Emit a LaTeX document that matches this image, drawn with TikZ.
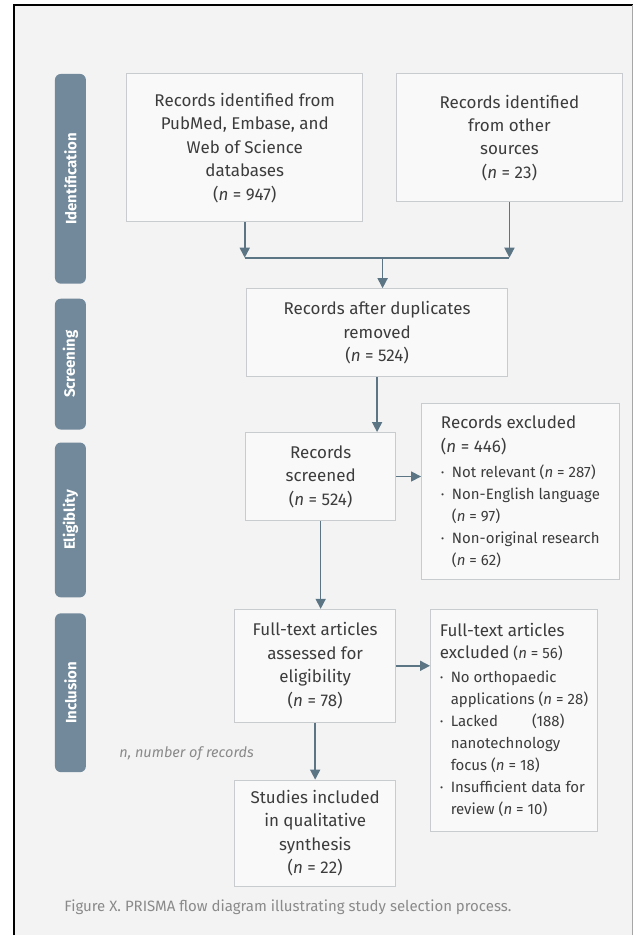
\documentclass[tikz,border=0pt]{standalone}
\usepackage{fontspec}
\setmainfont{Fira Sans}
\usetikzlibrary{arrows.meta}

\definecolor{paper}{HTML}{F3F3F3}
\definecolor{boxline}{HTML}{C9CCCF}
\definecolor{barfill}{HTML}{71899A}
\definecolor{arrowcol}{HTML}{5B7585}
\definecolor{txt}{HTML}{3C3C3C}
\definecolor{captxt}{HTML}{8A8A8A}

\tikzset{
  box/.style={draw=boxline, line width=1pt, fill=paper!50!white, text=txt, align=center,
    inner sep=0pt, font=\fontsize{17}{23.5}\selectfont},
  sidebox/.style={box, align=left, font=\fontsize{15}{22}\selectfont},
  flow/.style={draw=arrowcol, line width=1.6pt, -{Triangle[width=10pt,length=10pt]}},
  phase/.style={fill=barfill, rounded corners=6pt, rotate=90, text=white, inner sep=0pt,
    minimum height=31pt, font=\fontsize{15}{15}\selectfont\bfseries},
}
\newcommand{\nn}{\textit{n}}
\newcommand{\hd}[1]{{\fontsize{17}{17}\selectfont #1}}
\newcommand{\bul}{\makebox[11pt][l]{·}}
\newcommand{\ind}{\hspace*{11pt}}

\begin{document}
\begin{tikzpicture}[x=1pt, y=-1pt]
  % page and frame
  \fill[white] (0,0) rectangle (636,936);
  \fill[paper] (14,5) rectangle (634,936);
  \draw[black, line width=2pt] (14.5,936) -- (14.5,5.5) -- (634,5.5);
  \draw[gray!70, line width=1pt] (633.5,5) -- (633.5,936);

  % phase bars
  \foreach \ya/\yb/\lab in {74/284/Identification,299/430/Screening,443/598/Eligiblity,614/773/Inclusion} {
    \node[phase, minimum width={\yb pt-\ya pt}] (bar-\lab) at (70.5,{(\ya+\yb)/2}) {\lab};
  }

  % boxes
  \node[box, minimum width=236pt, minimum height=148pt] (src) at (245,148)
    {Records identified from\\PubMed, Embase, and\\Web of Science\\databases\\(\nn{} = 947)};
  \node[box, minimum width=226pt, minimum height=128pt] (other) at (510,138)
    {Records identified\\from other\\sources\\(\nn{} = 23)};
  \node[box, minimum width=261pt, minimum height=88pt] (dup) at (377.5,333)
    {Records after duplicates\\removed\\(\nn{} = 524)};
  \node[box, minimum width=150pt, minimum height=88pt] (scr) at (321,477)
    {Records\\screened\\(\nn{} = 524)};
  \node[sidebox, minimum width=198pt, minimum height=176pt] (exc) at (521,492)
    {\hd{Records excluded}\\[2pt]\hd{(\nn{} = 446)}\\[3pt]
     \bul Not relevant (\nn{} = 287)\\
     \bul Non-English language\\
     \ind(\nn{} = 97)\\
     \bul Non-original research\\
     \ind(\nn{} = 62)};
  \node[box, minimum width=161pt, minimum height=113pt] (full) at (315.5,666.5)
    {Full-text articles\\assessed for\\eligibility\\(\nn{} = 78)};
  \node[sidebox, minimum width=167pt, minimum height=222pt] (fexc) at (514.5,721)
    {\hd{Full-text articles}\\\hd{excluded} (\nn{} = 56)\\[2pt]
     \bul No orthopaedic\\
     \ind applications (\nn{} = 28)\\
     \bul Lacked\hspace{34pt}(188)\\
     \ind nanotechnology\\
     \ind focus (\nn{} = 18)\\
     \bul Insufficient data for\\
     \ind review (\nn{} = 10)};
  \node[box, minimum width=161pt, minimum height=106pt] (incl) at (315.5,834)
    {Studies included\\in qualitative\\synthesis\\(\nn{} = 22)};

  % notes
  \node[anchor=west, text=captxt, font=\fontsize{14.5}{14.5}\selectfont\itshape] (note) at (116,754)
    {n, number of records};
  \node[anchor=west, text=captxt, font=\fontsize{15}{15}\selectfont] (caption) at (61,908)
    {Figure X. PRISMA flow diagram illustrating study selection process.};

  % connectors
  \coordinate (join) at (383,258);
  \draw[flow] (src.south) -- (src.south |- join);
  \draw[flow] (other.south) -- (other.south |- join);
  \draw[arrowcol, line width=1.6pt] (src.south |- join) -- (other.south |- join);
  \draw[flow] (join) -- (join |- dup.north);
  \draw[flow] (dup.south) -- (dup.south |- scr.north);
  \draw[flow] (scr.east) -- (scr.east -| exc.west);
  \draw[flow] (scr.south) -- (scr.south |- full.north);
  \draw[flow] (full.east) -- (full.east -| fexc.west);
  \draw[flow] (full.south) -- (incl.north);
\end{tikzpicture}
\end{document}
